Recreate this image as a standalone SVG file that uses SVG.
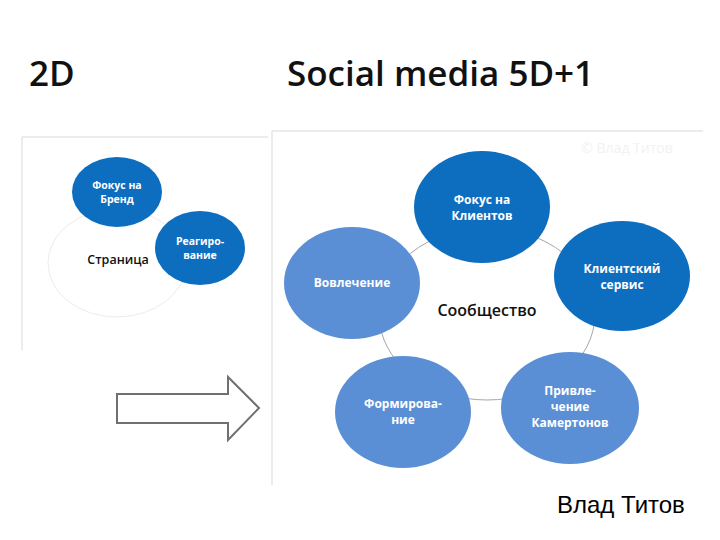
<svg xmlns="http://www.w3.org/2000/svg" width="720" height="540" viewBox="0 0 720 540">
<style>
.title{font-family:"Open Sans","Noto Sans",sans-serif;font-weight:600;font-size:35px;fill:#111}
.nt{font-family:"Open Sans","Noto Sans",sans-serif;font-weight:700;font-size:12px;fill:#fff;text-anchor:middle}
.nts{font-family:"Open Sans","Noto Sans",sans-serif;font-weight:700;font-size:10.5px;fill:#fff;text-anchor:middle}
.dark{fill:#0d6ebf}
.light{fill:#5b8fd5}
.lbl{font-family:"Open Sans","Noto Sans",sans-serif;font-weight:600;fill:#111;text-anchor:middle}
</style>
<rect width="720" height="540" fill="#fff"/>
<text class="title" x="29" y="86">2D</text>
<text class="title" x="287" y="86">Social media 5D+1</text>

<g id="panel-left">
<path d="M22 350 V137 H268" fill="none" stroke="#d9d9d9"/>
<g id="page">
<ellipse cx="117" cy="263" rx="69" ry="54" fill="#fff" stroke="#ececec" stroke-width="1"/>
<text class="lbl" x="118" y="264" font-size="12.5">Страница</text>
</g>
<g id="brand">
<ellipse class="dark" cx="117" cy="192" rx="45" ry="35"/>
<text class="nts" x="117" y="189">Фокус на</text>
<text class="nts" x="117" y="203">Бренд</text>
</g>
<g id="react">
<ellipse class="dark" cx="200" cy="248" rx="45" ry="37"/>
<text class="nts" x="200" y="245">Реагиро-</text>
<text class="nts" x="200" y="259">вание</text>
</g>
</g>

<g id="arrow">
<path d="M117 394 H228 V377 L259 408 L228 440 V423 H117 Z" fill="#fff" stroke="#707070" stroke-width="2" stroke-linejoin="miter"/>
</g>

<g id="panel-right">
<path d="M272 485 V131 H703" fill="none" stroke="#d9d9d9"/>
<text x="627" y="153" font-family="Open Sans, sans-serif" font-size="14" fill="#f2f2f2" text-anchor="middle">© Влад Титов</text>
<g id="connectors">
<ellipse cx="487" cy="314" rx="108" ry="86" fill="none" stroke="#a6a6a6" stroke-width="1"/>
</g>
<text class="lbl" x="487" y="316" font-size="16">Сообщество</text>
<g id="focus-clients">
<ellipse class="dark" cx="482" cy="207" rx="68" ry="56"/>
<text class="nt" x="482" y="204">Фокус на</text>
<text class="nt" x="482" y="220">Клиентов</text>
</g>
<g id="client-service">
<ellipse class="dark" cx="622" cy="276" rx="68" ry="55"/>
<text class="nt" x="622" y="273">Клиентский</text>
<text class="nt" x="622" y="289">сервис</text>
</g>
<g id="involvement">
<ellipse class="light" cx="352" cy="283" rx="68" ry="56"/>
<text class="nt" x="352" y="287">Вовлечение</text>
</g>
<g id="forming">
<ellipse class="light" cx="403" cy="412" rx="68" ry="56"/>
<text class="nt" x="403" y="408">Формирова-</text>
<text class="nt" x="403" y="424">ние</text>
</g>
<g id="attract">
<ellipse class="light" cx="570" cy="408" rx="69" ry="56"/>
<text class="nt" x="570" y="395">Привле-</text>
<text class="nt" x="570" y="411">чение</text>
<text class="nt" x="570" y="427">Камертонов</text>
</g>
</g>

<text x="557" y="513" font-family="Liberation Sans, Arial, sans-serif" font-size="24" fill="#000">Влад Титов</text>
</svg>
